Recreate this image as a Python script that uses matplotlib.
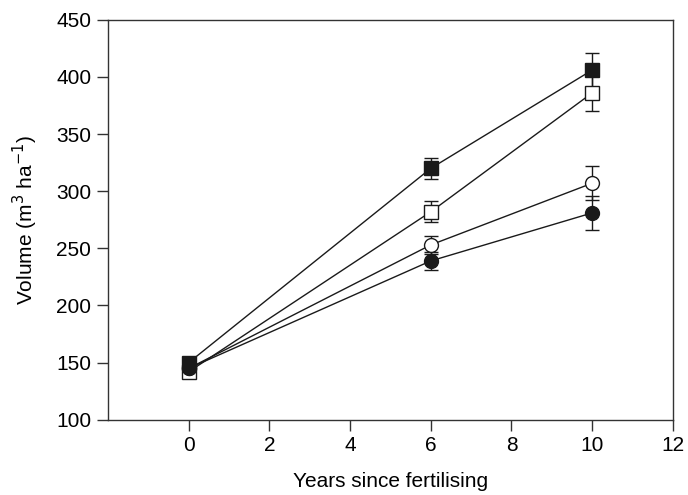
import matplotlib
matplotlib.use("Agg")
import matplotlib.pyplot as plt

plt.rcParams['font.family'] = ['Liberation Sans', 'DejaVu Sans']

years = [0, 6, 10]

# series values (m3/ha) and standard errors
filled_square = [150, 320, 406]
filled_square_err = [3, 9, 15]
open_square = [142, 282, 386]
open_square_err = [3, 9, 16]
open_circle = [145, 253, 307]
open_circle_err = [3, 8, 15]
filled_circle = [145, 239, 281]
filled_circle_err = [3, 8, 15]

fig = plt.figure(figsize=(6.88, 4.95), dpi=100)
ax = fig.add_axes([0.157, 0.152, 0.821, 0.808])

series = [
    (open_square, open_square_err, 's', 'white'),
    (open_circle, open_circle_err, 'o', 'white'),
    (filled_square, filled_square_err, 's', '#1a1a1a'),
    (filled_circle, filled_circle_err, 'o', '#1a1a1a'),
]
for vals, errs, marker, face in series:
    ax.errorbar(years, vals, yerr=errs, color='#1a1a1a', lw=1.0,
                marker=marker, markersize=10, markerfacecolor=face,
                markeredgecolor='#1a1a1a', markeredgewidth=1.0,
                capsize=5, elinewidth=1.0, capthick=1.0)

ax.set_xlim(-2, 12)
ax.set_ylim(100, 450)
ax.set_xticks([0, 2, 4, 6, 8, 10, 12])
ax.set_yticks(range(100, 451, 50))
ax.tick_params(direction='out', length=8, width=1, labelsize=15, pad=4,
               top=False, right=False, color='#333333')
for s in ax.spines.values():
    s.set_linewidth(1)
    s.set_color('#333333')

ax.set_xlabel('Years since fertilising', fontsize=15, labelpad=12)
ax.set_ylabel('Volume (m$^3$ ha$^{-1}$)', fontsize=15, labelpad=12)

fig.savefig('out.png', dpi=100)
